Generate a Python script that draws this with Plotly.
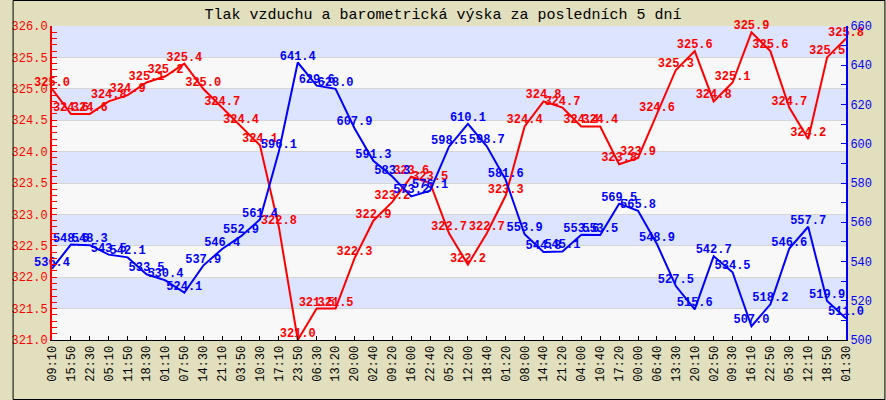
import plotly.graph_objects as go

times = ["09:10","15:50","22:30","05:10","11:50","18:30","01:10","07:50","14:30","21:10",
         "03:50","10:30","17:10","23:50","06:30","13:20","20:00","02:40","09:20","16:00",
         "22:40","05:20","12:00","18:40","01:20","08:00","14:40","21:20","04:00","10:40",
         "17:20","00:00","06:40","13:30","20:10","02:50","09:30","16:10","22:50","05:30",
         "12:10","18:50","01:30"]

pressure = [325.0,324.6,324.6,324.8,324.9,325.1,325.2,325.4,325.0,324.7,
            324.4,324.1,322.8,321.0,321.5,321.5,322.3,322.9,323.2,323.6,
            323.5,322.7,322.2,322.7,323.3,324.4,324.8,324.7,324.4,324.4,
            323.8,323.9,324.6,325.3,325.6,324.8,325.1,325.9,325.6,324.7,
            324.2,325.5,325.8]

altitude = [536.4,548.6,548.3,543.5,542.1,533.5,530.4,524.1,537.9,546.4,
            552.9,561.4,596.1,641.4,629.6,628.0,607.9,591.3,583.3,573.2,
            576.1,598.5,610.1,598.7,581.6,553.9,544.8,545.1,553.6,553.5,
            569.5,565.8,548.9,527.5,515.6,542.7,534.5,507.0,518.2,546.6,
            557.7,519.9,511.0]

idx = list(range(len(times)))
MONO = "Liberation Mono"

fig = go.Figure()
fig.add_trace(go.Scatter(
    x=idx, y=pressure, mode="lines+text", line=dict(color="#FF0000", width=2),
    text=[f"{v:.1f}" for v in pressure], textposition="top center",
    textfont=dict(family=MONO, size=12, color="#FF0000", weight="bold"),
    cliponaxis=False, yaxis="y", showlegend=False, hoverinfo="skip"))
fig.add_trace(go.Scatter(
    x=idx, y=altitude, mode="lines+text", line=dict(color="#0000FF", width=2),
    text=[f"{v:.1f}" for v in altitude], textposition="top center",
    textfont=dict(family=MONO, size=12, color="#0000FF", weight="bold"),
    cliponaxis=False, yaxis="y2", showlegend=False, hoverinfo="skip"))

shapes = []
lo = 321.0
k = 0
while lo < 326.0 - 1e-9:
    shapes.append(dict(type="rect", xref="paper", yref="y", x0=0, x1=1, y0=lo, y1=lo + 0.5,
                       fillcolor="#F8F8F8" if k % 2 == 0 else "#DDE4FF",
                       line=dict(width=0), layer="below"))
    lo += 0.5
    k += 1

W, H = 886, 400
L, R, T, B = 40, 40, 26, 60
pw, ph = W - L - R, H - T - B
shapes.append(dict(type="rect", xref="paper", yref="paper",
                   x0=-L / pw + 0.5 / pw, x1=1 + R / pw - 0.5 / pw,
                   y0=-B / ph + 0.5 / ph, y1=1 + T / ph - 0.5 / ph,
                   line=dict(color="black", width=1), layer="above"))

fig.update_layout(
    width=W, height=H, margin=dict(l=L, r=R, t=T, b=B),
    paper_bgcolor="#E1DFBE", plot_bgcolor="#F8F8F8",
    shapes=shapes,
    title=dict(text="Tlak vzduchu a barometrická výska za posledních 5 dní",
               font=dict(family=MONO, size=15, color="black"),
               x=0.5, xanchor="center", y=1 - 14 / H, yanchor="middle"),
    xaxis=dict(range=[0, len(times) - 1], tickvals=idx, ticktext=times, tickangle=-90,
               ticks="inside", ticklen=4, tickcolor="black", showgrid=False, zeroline=False,
               showline=True, linecolor="black", linewidth=1,
               tickfont=dict(family=MONO, size=12, color="black")),
    yaxis=dict(range=[321, 326], dtick=0.5, tickformat=".1f", ticks="inside", ticklen=5,
               tickcolor="#FF0000", tickwidth=1, showline=True, linecolor="#FF0000", linewidth=2,
               showgrid=True, gridcolor="#D6D6D6", gridwidth=1, zeroline=False,
               minor=dict(dtick=0.1, ticks="inside", ticklen=5, tickcolor="#FF0000"),
               tickfont=dict(family=MONO, size=12, color="#FF0000")),
    yaxis2=dict(range=[500, 660], dtick=20, overlaying="y", side="right", ticks="inside",
                ticklen=5, tickcolor="#0000FF", showline=True, linecolor="#0000FF", linewidth=2,
                showgrid=False, zeroline=False,
                minor=dict(dtick=10, ticks="inside", ticklen=5, tickcolor="#0000FF"),
                tickfont=dict(family=MONO, size=12, color="#0000FF")),
)

fig.write_html("out.html")
